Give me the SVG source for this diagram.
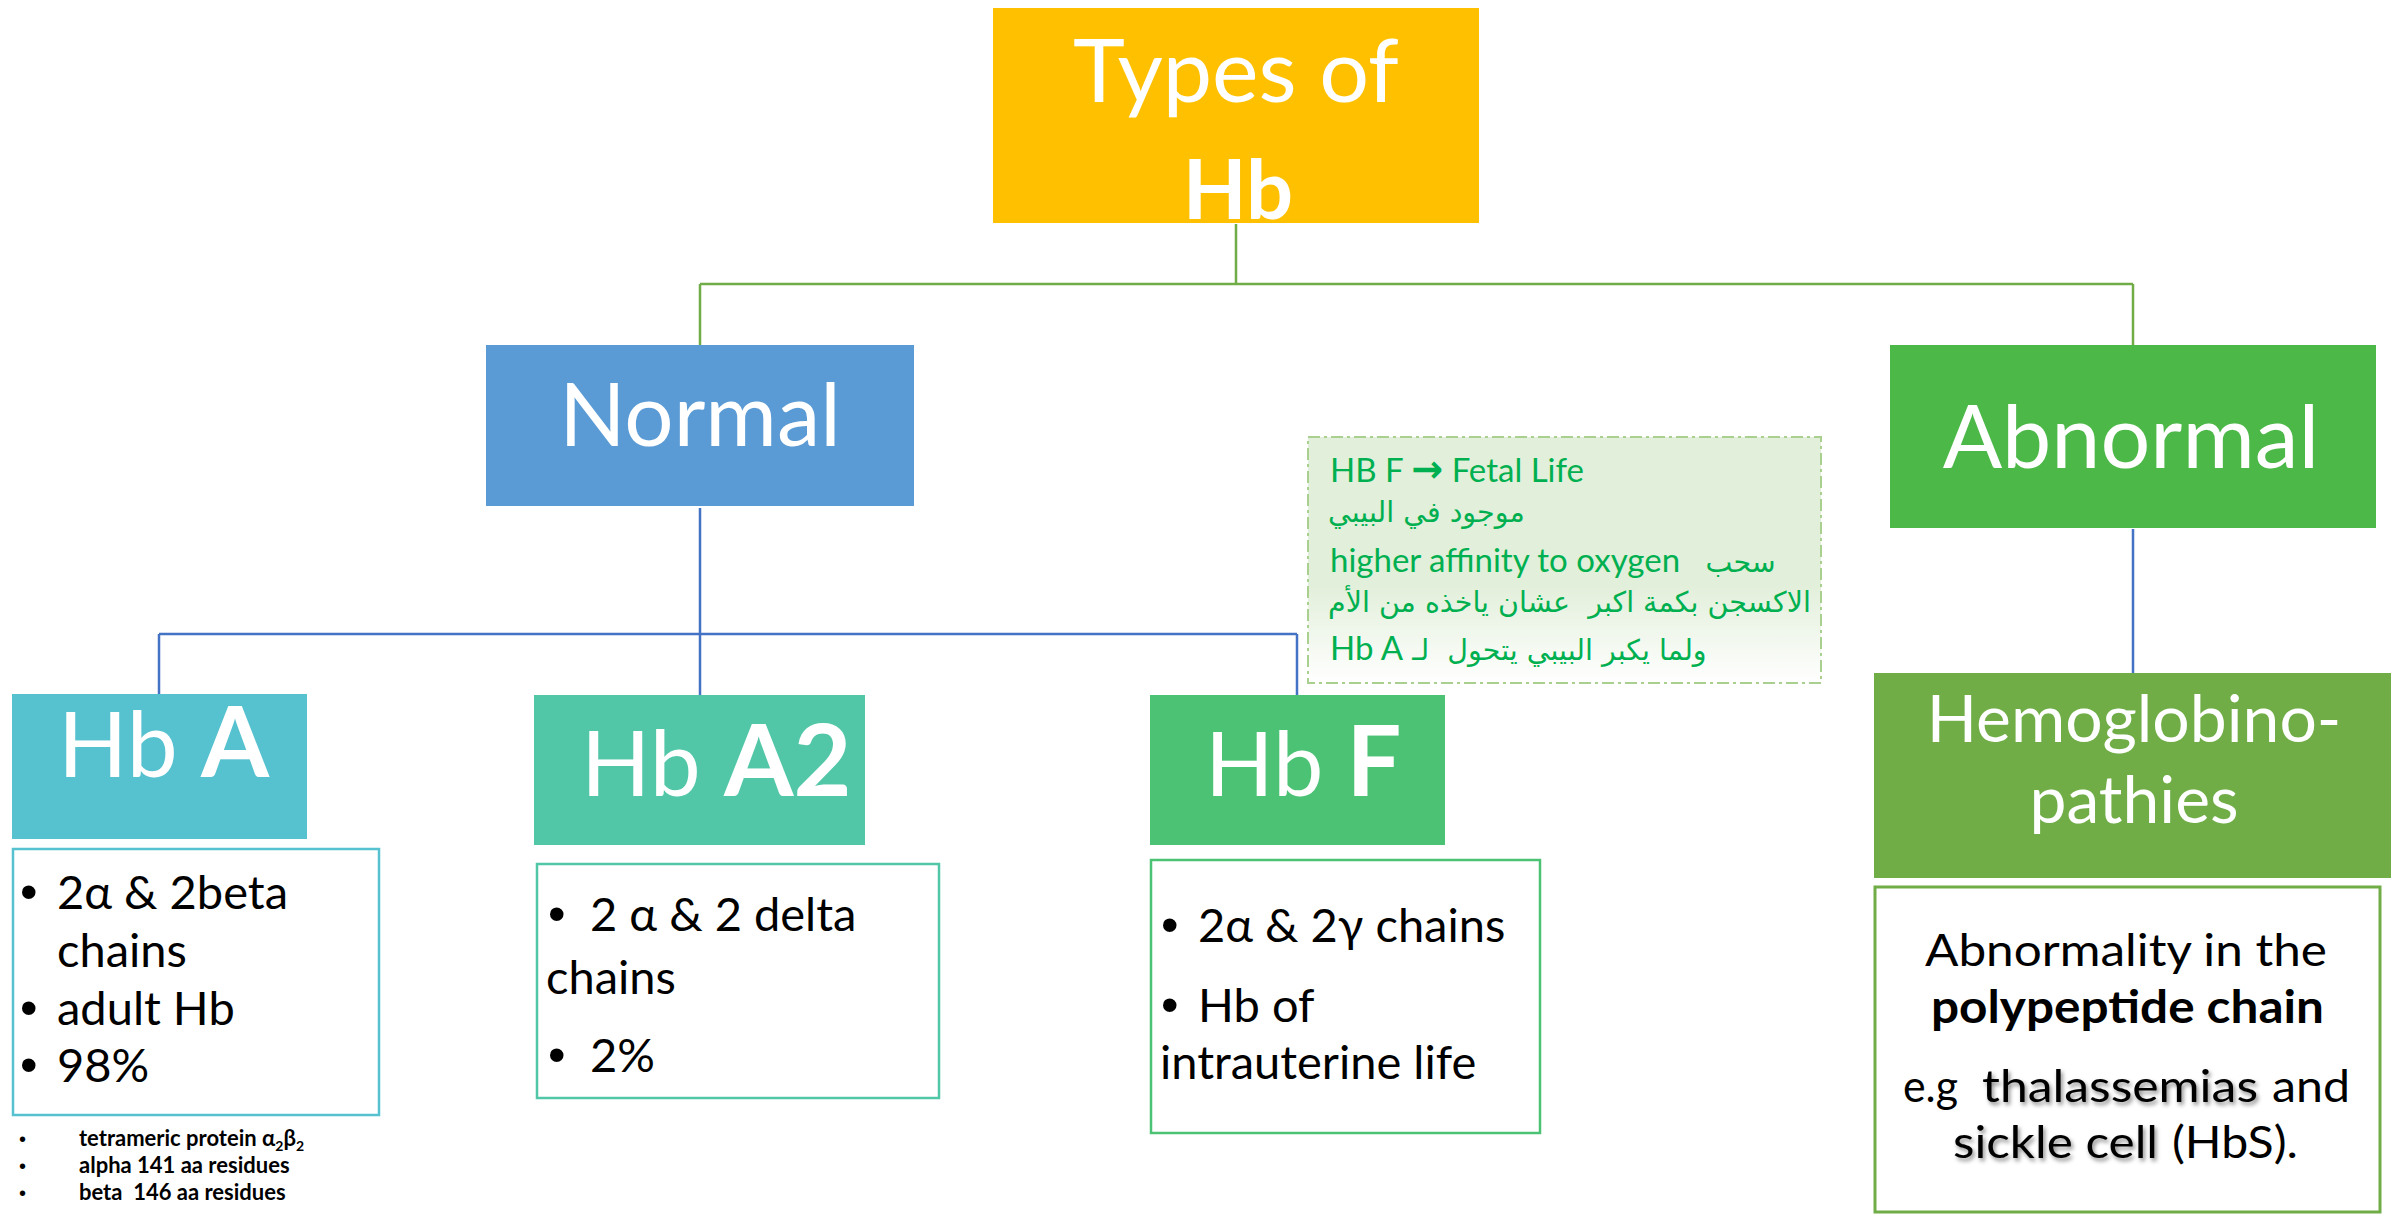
<svg xmlns="http://www.w3.org/2000/svg" width="2405" height="1224" viewBox="0 0 2405 1224">
<style>
.f{font-family:Lato,"DejaVu Sans",sans-serif}
.w{fill:#fff}
.k{fill:#000}
.b{font-weight:bold}
.bul{font-family:"Liberation Sans",sans-serif;fill:#000}
.li{font-family:Lato,"DejaVu Sans",sans-serif;fill:#000;font-size:47px}
.g{fill:#00B050;font-family:Lato,"DejaVu Sans",sans-serif;font-size:33px}
.ar{font-family:"DejaVu Sans",sans-serif;font-size:28.5px}
.d{font-family:Lato,"DejaVu Sans",sans-serif;fill:#000;font-size:45px}
.cg{stroke:#70AD47;stroke-width:2.5;fill:none}
.cb{stroke:#4472C4;stroke-width:2.5;fill:none}
</style>
<defs>
<linearGradient id="cg" x1="0" y1="0" x2="0" y2="1">
<stop offset="0" stop-color="#E2EFDA"/>
<stop offset="0.6" stop-color="#E2EFDA"/>
<stop offset="1" stop-color="#FFFFFF"/>
</linearGradient>
<filter id="sh" x="-10%" y="-30%" width="120%" height="160%"><feDropShadow dx="2" dy="3" stdDeviation="2" flood-color="#000" flood-opacity="0.45"/></filter>
</defs>
<rect width="2405" height="1224" fill="#fff"/>
<g id="connectors">
<path class="cg" d="M1236 224V284M700 284H2133M700 284V345M2133 284V345"/>
<path class="cb" d="M700 508V695M159 634H1297M159 634V694M1297 634V695M2133 529V673"/>
</g>
<g id="types">
<rect x="993" y="8" width="486" height="215" fill="#FFC000"/>
<text class="f w" x="1236" y="102" font-size="88" text-anchor="middle">Types of</text>
<text class="f w b" x="1238" y="219" font-size="83" text-anchor="middle">Hb</text>
</g>
<g id="normal">
<rect x="486" y="345" width="428" height="161" fill="#5B9BD5"/>
<text class="f w" x="700" y="446" font-size="87" text-anchor="middle">Normal</text>
</g>
<g id="abnormal">
<rect x="1890" y="345" width="486" height="183" fill="#4CB848"/>
<text class="f w" x="2131" y="468" font-size="88" text-anchor="middle">Abnormal</text>
</g>
<g id="hba">
<rect x="12" y="694" width="295" height="145" fill="#56C1CF"/>
<text class="f w" x="58" y="777" font-size="91">Hb <tspan class="b" font-size="98">A</tspan></text>
</g>
<g id="hba-list">
<rect x="13" y="849" width="366" height="266" fill="#fff" stroke="#56C1CF" stroke-width="2.5"/>
<text class="bul" x="20" y="909" font-size="50">•</text>
<text class="li" x="57" y="909">2α &amp; 2beta</text>
<text class="li" x="57" y="967">chains</text>
<text class="bul" x="20" y="1025" font-size="50">•</text>
<text class="li" x="57" y="1025">adult Hb</text>
<text class="bul" x="20" y="1082" font-size="50">•</text>
<text class="li" x="57" y="1082">98%</text>
</g>
<g id="hba-notes">
<text class="bul" x="19" y="1146" font-size="20">•</text>
<text class="f k b" x="79" y="1146" font-size="22">tetrameric protein α<tspan font-size="14" dy="5">2</tspan><tspan dy="-5">β</tspan><tspan font-size="14" dy="5">2</tspan></text>
<text class="bul" x="19" y="1173" font-size="20">•</text>
<text class="f k b" x="79" y="1173" font-size="22">alpha 141 aa residues</text>
<text class="bul" x="19" y="1200" font-size="20">•</text>
<text class="f k b" x="79" y="1200" font-size="22" xml:space="preserve">beta  146 aa residues</text>
</g>
<g id="hba2">
<rect x="534" y="695" width="331" height="150" fill="#52C7A8"/>
<text class="f w" x="581" y="796" font-size="91">Hb <tspan class="b" font-size="100">A2</tspan></text>
</g>
<g id="hba2-list">
<rect x="537" y="864" width="402" height="234" fill="#fff" stroke="#52C7A8" stroke-width="2.5"/>
<text class="bul" x="548" y="931" font-size="50">•</text>
<text class="li" x="590" y="931">2 α &amp; 2 delta</text>
<text class="li" x="546" y="994">chains</text>
<text class="bul" x="548" y="1072" font-size="50">•</text>
<text class="li" x="590" y="1072">2%</text>
</g>
<g id="hbf">
<rect x="1150" y="695" width="295" height="150" fill="#4CC274"/>
<text class="f w" x="1205" y="796" font-size="90">Hb <tspan class="b" font-size="97">F</tspan></text>
</g>
<g id="hbf-list">
<rect x="1151" y="860" width="389" height="273" fill="#fff" stroke="#4CC274" stroke-width="2.5"/>
<text class="bul" x="1161" y="942" font-size="50">•</text>
<text class="li" x="1198" y="942">2α &amp; 2γ chains</text>
<text class="bul" x="1161" y="1022" font-size="50">•</text>
<text class="li" x="1198" y="1022">Hb of</text>
<text class="li" x="1160" y="1079">intrauterine life</text>
</g>
<g id="hbf-note">
<rect x="1308" y="437" width="513" height="246" fill="url(#cg)" stroke="#A9D08E" stroke-width="2" stroke-dasharray="12 4 3 4"/>
<text class="g" x="1330" y="482">HB F <tspan font-family="DejaVu Sans" font-weight="bold" font-size="38">→</tspan> Fetal Life</text>
<text class="g ar" x="1328" y="522">موجود في البيبي</text>
<text class="g" x="1330" y="572" xml:space="preserve">higher affinity to oxygen   <tspan class="ar">سحب</tspan></text>
<text class="g ar" x="1328" y="612" xml:space="preserve">الاكسجن بكمة اكبر  عشان ياخذه من الأم</text>
<text class="g" x="1330" y="660" direction="rtl" text-anchor="end" xml:space="preserve"><tspan class="ar">ولما يكبر البيبي يتحول  لـ </tspan>Hb A</text>
</g>
<g id="hemoglobinopathies">
<rect x="1874" y="673" width="517" height="205" fill="#70AD47"/>
<text class="f w" x="2134" y="742" font-size="66" text-anchor="middle">Hemoglobino-</text>
<text class="f w" x="2134" y="823" font-size="66" text-anchor="middle">pathies</text>
</g>
<g id="abnormal-desc">
<rect x="1875" y="887" width="505" height="325" fill="#fff" stroke="#70AD47" stroke-width="3"/>
<text class="d" x="1925" y="966" textLength="402" lengthAdjust="spacingAndGlyphs">Abnormality in the</text>
<text class="d b" x="1931" y="1023" textLength="393" lengthAdjust="spacingAndGlyphs">polypeptide chain</text>
<text class="d" x="1903" y="1102" textLength="55" lengthAdjust="spacingAndGlyphs">e.g</text>
<text class="d" x="1982" y="1102" textLength="276" lengthAdjust="spacingAndGlyphs" filter="url(#sh)">thalassemias</text>
<text class="d" x="2272" y="1102" textLength="78" lengthAdjust="spacingAndGlyphs">and</text>
<text class="d" x="1953" y="1158" textLength="205" lengthAdjust="spacingAndGlyphs" filter="url(#sh)">sickle cell</text>
<text class="d" x="2172" y="1158" textLength="126" lengthAdjust="spacingAndGlyphs">(HbS).</text>
</g>
</svg>
